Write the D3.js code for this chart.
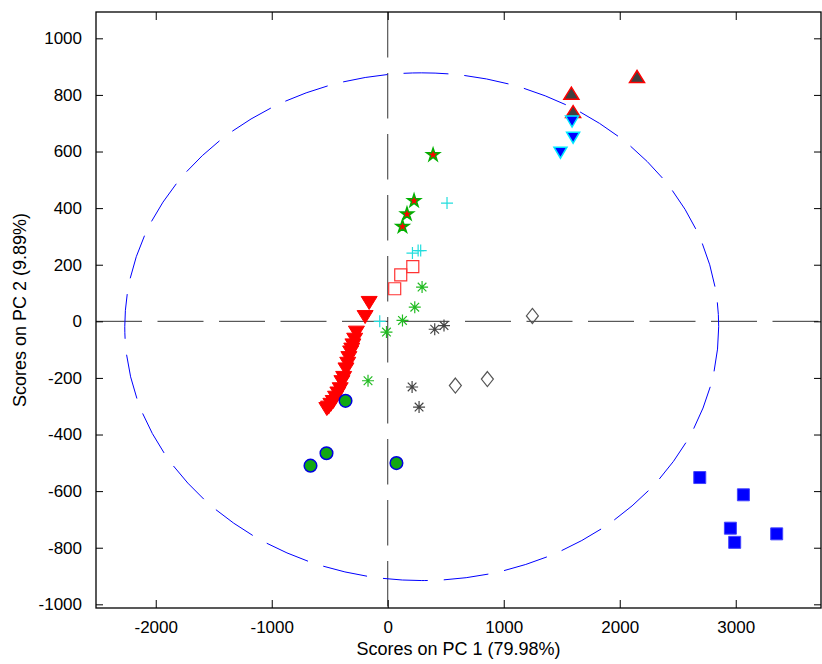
<!DOCTYPE html>
<html>
<head>
<meta charset="utf-8">
<script src="https://cdn.jsdelivr.net/npm/d3@7"></script>
<style>
body { margin: 0; background: #fff; }
text { font-family: "Liberation Sans", Arial, sans-serif; fill: #000; }
</style>
</head>
<body>
<div class="content"></div>
<script>
var size = {width: 822, height: 664};
var frame = {left: 96, right: 821, top: 12, bottom: 608};

// axis settings
var xDomain = [-2515, 3735];
var yDomain = [-1013, 1093];
var xTicks = [-2000, -1000, 0, 1000, 2000, 3000];
var yTicks = [-1000, -800, -600, -400, -200, 0, 200, 400, 600, 800, 1000];
var xLabel = "Scores on PC 1 (79.98%)";
var yLabel = "Scores on PC 2 (9.89%)";

// confidence ellipse: center and semi axes in score units
var ellipse = {cx: 293, cy: -19, rx: 2560, ry: 897};

// sample scores, one array per class
var redDown = [[-160,65],[-195,15],[-270,-40],[-285,-65],[-300,-85],[-310,-100],[-320,-110],
               [-335,-130],[-345,-150],[-360,-170],[-380,-200],[-395,-215],[-410,-240],
               [-430,-255],[-450,-270],[-470,-285],[-490,-295],[-510,-305],[-525,-310]];
var greenCircle = [[-364,-281],[-528,-466],[-666,-510],[75,-501]];
var redStar = [[391,588],[227,426],[166,379],[127,335]];
var cyanPlus = [[511,418],[213,241],[262,250],[284,250],[-69,0]];
var redSquare = [[60,115],[112,164],[216,193]];
var greenAster = [[296,121],[233,50],[127,3],[-11,-38],[-170,-210]];
var grayAster = [[405,-28],[485,-15],[210,-232],[270,-303]];
var diamond = [[1247,19],[583,-227],[859,-204]];
var grayUp = [[1583,806],[1598,741],[2149,865]];
var blueDown = [[1589,706],[1598,649],[1489,596]];
var blueSquare = [[2690,-552],[3066,-613],[2954,-731],[2991,-781],[3353,-751]];

var chart = d3.select('.content')
    .append('svg')
    .attr('width', size.width)
    .attr('height', size.height);

var xScale = d3.scaleLinear().domain(xDomain).range([frame.left, frame.right]);
var yScale = d3.scaleLinear().domain(yDomain).range([frame.bottom, frame.top]);

chart.append('defs').append('clipPath')
    .attr('id', 'clipper')
    .append('rect')
    .attr('x', frame.left).attr('y', frame.top)
    .attr('width', frame.right - frame.left)
    .attr('height', frame.bottom - frame.top);

var plot = chart.append('g').attr('clip-path', 'url(#clipper)');

// zero lines
plot.append('line')
    .attr('x1', frame.left).attr('x2', frame.right)
    .attr('y1', yScale(0)).attr('y2', yScale(0))
    .attr('stroke', '#333').attr('stroke-dasharray', '46,15.5');
plot.append('line')
    .attr('x1', xScale(0)).attr('x2', xScale(0))
    .attr('y1', frame.top).attr('y2', frame.bottom)
    .attr('stroke', '#333').attr('stroke-dasharray', '45.5,15.5');

// ellipse
plot.append('ellipse')
    .attr('cx', xScale(ellipse.cx)).attr('cy', yScale(ellipse.cy))
    .attr('rx', xScale(ellipse.rx) - xScale(0))
    .attr('ry', yScale(0) - yScale(ellipse.ry))
    .attr('fill', 'none').attr('stroke', '#0000ff')
    .attr('stroke-dasharray', '45,16');

// marker shapes, centred on 0,0
function triDown(w, h) { return 'M' + (-w/2) + ',' + (-h/2) + 'L' + (w/2) + ',' + (-h/2) + 'L0,' + (h/2) + 'Z'; }
function triUp(w, h) { return 'M' + (-w/2) + ',' + (h/2) + 'L' + (w/2) + ',' + (h/2) + 'L0,' + (-h/2) + 'Z'; }
function asterisk(r) {
    var d = r * 0.72;
    return 'M' + (-r) + ',0L' + r + ',0M0,' + (-r) + 'L0,' + r +
           'M' + (-d) + ',' + (-d) + 'L' + d + ',' + d + 'M' + (-d) + ',' + d + 'L' + d + ',' + (-d);
}
function plus(r) { return 'M' + (-r) + ',0L' + r + ',0M0,' + (-r) + 'L0,' + r; }
function square(s) { return 'M' + (-s/2) + ',' + (-s/2) + 'h' + s + 'v' + s + 'h' + (-s) + 'Z'; }
function diamondPath(w, h) { return 'M0,' + (-h/2) + 'L' + (w/2) + ',0L0,' + (h/2) + 'L' + (-w/2) + ',0Z'; }

function drawSeries(data, pathStr, fill, stroke, sw) {
    plot.append('g').selectAll('path').data(data).enter().append('path')
        .attr('transform', function(d) { return 'translate(' + xScale(d[0]) + ',' + yScale(d[1]) + ')'; })
        .attr('d', pathStr)
        .attr('fill', fill)
        .attr('stroke', stroke)
        .attr('stroke-width', sw);
}

drawSeries(redDown, triDown(16, 13), '#ff0000', '#ff0000', 1);
plot.append('g').selectAll('circle').data(greenCircle).enter().append('circle')
    .attr('cx', function(d) { return xScale(d[0]); })
    .attr('cy', function(d) { return yScale(d[1]); })
    .attr('r', 6.3)
    .attr('fill', '#12a812').attr('stroke', '#0000e0').attr('stroke-width', 1.5);
drawSeries(redStar, d3.symbol().type(d3.symbolStar).size(52)(), '#ff0000', '#00b000', 1.5);
drawSeries(cyanPlus, plus(6), 'none', '#22dddd', 1.2);
drawSeries(redSquare, square(12), 'none', '#ff3333', 1.2);
drawSeries(greenAster, asterisk(6), 'none', '#22bb22', 1.2);
drawSeries(grayAster, asterisk(6), 'none', '#444444', 1.2);
drawSeries(diamond, diamondPath(12, 15), 'none', '#555555', 1.2);
drawSeries(grayUp, triUp(15, 12), '#404040', '#ff0000', 1.5);
drawSeries(blueDown, triDown(13, 11), '#0000ff', '#00e8ff', 1.5);
drawSeries(blueSquare, square(12), '#0000ff', '#4444ff', 1);

// axes on all four sides, ticks pointing inward; plain hyphen minus, no thousands comma
var fmt = function(v) { return String(v); };
var xAxisB = d3.axisBottom(xScale).tickValues(xTicks).tickFormat(fmt).tickSizeInner(-8).tickSizeOuter(0).tickPadding(13);
var xAxisT = d3.axisTop(xScale).tickValues(xTicks).tickSizeInner(-8).tickSizeOuter(0).tickFormat('');
var yAxisL = d3.axisLeft(yScale).tickValues(yTicks).tickFormat(fmt).tickSizeInner(-7).tickSizeOuter(0).tickPadding(14);
var yAxisR = d3.axisRight(yScale).tickValues(yTicks).tickSizeInner(-7).tickSizeOuter(0).tickFormat('');

function styleAxis(g) {
    g.select('.domain').remove();
    g.selectAll('text').style('font-family', '"Liberation Sans", Arial, sans-serif')
        .style('font-size', '17px').attr('fill', '#000');
    g.selectAll('line').attr('stroke', '#000');
}
chart.append('g').attr('transform', 'translate(0,' + frame.bottom + ')').call(xAxisB).call(styleAxis);
chart.append('g').attr('transform', 'translate(0,' + frame.top + ')').call(xAxisT).call(styleAxis);
chart.append('g').attr('transform', 'translate(' + frame.left + ',0)').call(yAxisL).call(styleAxis);
chart.append('g').attr('transform', 'translate(' + frame.right + ',0)').call(yAxisR).call(styleAxis);

// frame
chart.append('rect')
    .attr('x', frame.left).attr('y', frame.top)
    .attr('width', frame.right - frame.left)
    .attr('height', frame.bottom - frame.top)
    .attr('fill', 'none').attr('stroke', '#000').attr('stroke-width', 1.3);

// axis labels
chart.append('text')
    .attr('x', (frame.left + frame.right) / 2).attr('y', 655)
    .attr('text-anchor', 'middle').style('font-size', '18px')
    .text(xLabel);
chart.append('text')
    .attr('transform', 'translate(26,' + ((frame.top + frame.bottom) / 2) + ') rotate(-90)')
    .attr('text-anchor', 'middle').style('font-size', '18px')
    .text(yLabel);
</script>
</body>
</html>
